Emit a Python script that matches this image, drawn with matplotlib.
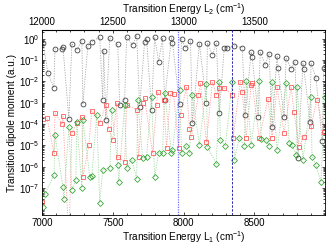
import matplotlib
matplotlib.use("Agg")
import matplotlib.pyplot as plt
import matplotlib.ticker as mticker
import numpy as np

plt.rcParams['font.family'] = ['Liberation Sans', 'DejaVu Sans']
plt.rcParams['mathtext.fontset'] = 'custom'
plt.rcParams['mathtext.rm'] = 'Liberation Sans'
plt.rcParams['mathtext.it'] = 'Liberation Sans'

# transition energy L1 (cm^-1) and log10 of transition dipole moment (a.u.)
black_e = [7007, 7042, 7084, 7092, 7141, 7148, 7190, 7211, 7246, 7282, 7289, 7324,
           7352, 7408, 7429, 7436, 7451, 7479, 7535, 7549, 7584, 7598, 7641, 7669,
           7690, 7725, 7739, 7774, 7796, 7824, 7852, 7866, 7915, 7922, 7972, 7986,
           8014, 8049, 8063, 8112, 8162, 8169, 8204, 8232, 8253, 8288, 8309, 8359,
           8415, 8436, 8478, 8485, 8528, 8542, 8577, 8605, 8626, 8661, 8668, 8711,
           8725, 8760, 8788, 8809, 8844, 8851, 8894, 8901, 8936, 8980, 8992]
black_log = [-0.19, -1.60, -2.30, -0.47, -0.47, -0.38, -3.76, -0.23, -0.52, -0.09, -3.05, -0.33,
             -0.14, 0.09, -2.86, -0.56, -3.80, 0.05, -0.23, -3.10, -2.86, 0.09, -0.28, 0.14,
             -3.19, -0.14, 0.00, -3.33, 0.09, -1.08, 0.05, -2.86, 0.05, -0.19, -3.05, 0.00,
             -0.42, -0.09, -3.94, -0.23, -3.00, -0.19, -0.75, -0.19, -3.47, -0.42, -0.42, -0.33,
             -0.42, -3.57, -0.61, -0.85, -3.66, -0.61, -1.22, -0.70, -4.13, -0.80, -1.36, -3.66,
             -0.89, -1.41, -1.08, -5.59, -1.13, -1.41, -3.90, -1.13, -1.83, -4.79, -1.36]

red_e = [7000, 7007, 7035, 7084, 7092, 7141, 7148, 7190, 7211, 7246, 7282, 7289,
         7331, 7352, 7408, 7451, 7472, 7500, 7528, 7535, 7584, 7598, 7669, 7683,
         7711, 7725, 7781, 7810, 7817, 7859, 7880, 7908, 7930, 7965, 7979, 8021,
         8042, 8056, 8105, 8119, 8162, 8204, 8232, 8253, 8288, 8345, 8350, 8401,
         8415, 8443, 8478, 8485, 8535, 8598, 8626, 8661, 8711, 8760, 8781, 8816,
         8851, 8901, 8943, 8992]
red_log = [-7.65, -3.76, -3.71, -5.35, -3.47, -3.99, -3.62, -9.50, -4.41, -3.94, -3.66, -6.48,
           -4.98, -3.38, -3.94, -3.10, -4.23, -4.74, -3.00, -5.54, -5.77, -3.10, -3.33, -5.54,
           -3.00, -2.77, -5.35, -3.10, -2.49, -2.86, -5.12, -2.54, -2.58, -5.12, -3.57, -2.25,
           -4.23, -4.60, -2.63, -2.07, -4.84, -2.02, -2.63, -2.30, -2.30, -2.63, -4.65, -2.02,
           -2.49, -4.65, -2.16, -2.07, -4.65, -2.82, -4.65, -2.25, -4.41, -2.25, -3.43, -5.07,
           -4.60, -4.08, -2.86, -4.37]

green_e = [7007, 7021, 7085, 7092, 7148, 7155, 7190, 7211, 7239, 7246, 7282, 7289,
           7338, 7352, 7387, 7408, 7429, 7479, 7493, 7535, 7542, 7584, 7598, 7634,
           7669, 7676, 7711, 7739, 7774, 7796, 7824, 7852, 7866, 7915, 7922, 7972,
           7986, 8021, 8042, 8063, 8112, 8162, 8169, 8232, 8253, 8260, 8295, 8345,
           8359, 8394, 8429, 8443, 8478, 8535, 8549, 8584, 8605, 8626, 8661, 8725,
           8746, 8767, 8795, 8802, 8844, 8901, 8908, 8936, 8971, 8999]
green_log = [-7.89, -7.28, -6.38, -4.51, -6.95, -7.51, -4.13, -7.09, -6.62, -3.90, -7.00, -3.80,
             -6.48, -6.43, -3.57, -7.70, -6.15, -6.06, -3.33, -5.92, -6.71, -3.10, -6.06, -5.68,
             -6.57, -2.86, -5.59, -5.54, -2.72, -6.48, -5.35, -5.35, -2.54, -5.35, -5.21, -2.39,
             -5.35, -5.02, -5.35, -2.63, -4.98, -2.11, -5.07, -5.87, -2.02, -4.74, -5.02, -2.02,
             -5.68, -4.65, -5.02, -1.97, -4.98, -1.97, -4.69, -4.74, -5.02, -2.02, -5.21, -2.07,
             -4.88, -4.98, -5.45, -2.25, -5.68, -2.72, -5.54, -5.92, -6.71, -2.72]

marked_lines = [7960, 8345]
offset_L2 = 5000

fig = plt.figure(figsize=(3.32, 2.49), dpi=100)
ax = fig.add_axes([0.1265, 0.1365, 0.8525, 0.743])

series = [
    (black_e, black_log, 'o', '#333333', '#a8a8a8'),
    (red_e, red_log, 's', '#ff4d4d', '#ffa0a0'),
    (green_e, green_log, 'D', '#2ea02e', '#a0d8a0'),
]
for e, lg, mk, mc, lc in series:
    vals = 10.0 ** np.array(lg)
    ax.plot(e, vals, ls=(0, (1.5, 1.5)), color=lc, lw=0.6, zorder=1)
    ax.plot(e, vals, ls='none', marker=mk, ms=3.5 if mk != 'D' else 3.0,
            mfc='none', mec=mc, mew=0.55, zorder=2)

ax.axvline(marked_lines[0], color='#7070ff', ls=(0, (1, 1)), lw=0.9, zorder=3)
ax.axvline(marked_lines[1], color='#2a2ab0', ls=(0, (2.5, 1.5)), lw=0.7, zorder=3)

ax.set_yscale('log')
ax.set_xlim(7000, 9000)
ax.set_ylim(5.4e-9, 2.6)
ax.set_yticks([10.0 ** -k for k in range(0, 8)])
ax.yaxis.set_minor_locator(mticker.LogLocator(base=10, subs=np.arange(2, 10), numticks=20))
ax.yaxis.set_minor_formatter(mticker.NullFormatter())
ax.set_xticks([7000, 7500, 8000, 8500])
ax.xaxis.set_minor_locator(mticker.MultipleLocator(100))

ax.tick_params(which='both', direction='in', top=False, right=True, labelsize=7, width=0.5, pad=2)
ax.tick_params(which='major', length=2.5)
ax.tick_params(which='minor', length=1.5)
for s in ax.spines.values():
    s.set_linewidth(0.6)

ax.set_xlabel('Transition Energy L$_1$ (cm$^{-1}$)', fontsize=7.2, labelpad=1)
ax.set_ylabel('Transition dipole moment (a.u.)', fontsize=7.2, labelpad=1)

top = ax.secondary_xaxis('top', functions=(lambda x: x + offset_L2, lambda x: x - offset_L2))
top.set_xticks([12000, 12500, 13000, 13500])
top.xaxis.set_minor_locator(mticker.MultipleLocator(100))
top.tick_params(which='both', direction='in', labelsize=7, width=0.5, pad=2)
top.tick_params(which='major', length=2.5)
top.tick_params(which='minor', length=1.5)
top.set_xlabel('Transition Energy L$_2$ (cm$^{-1}$)', fontsize=7.2, labelpad=3)

fig.savefig('out.png', dpi=100)
